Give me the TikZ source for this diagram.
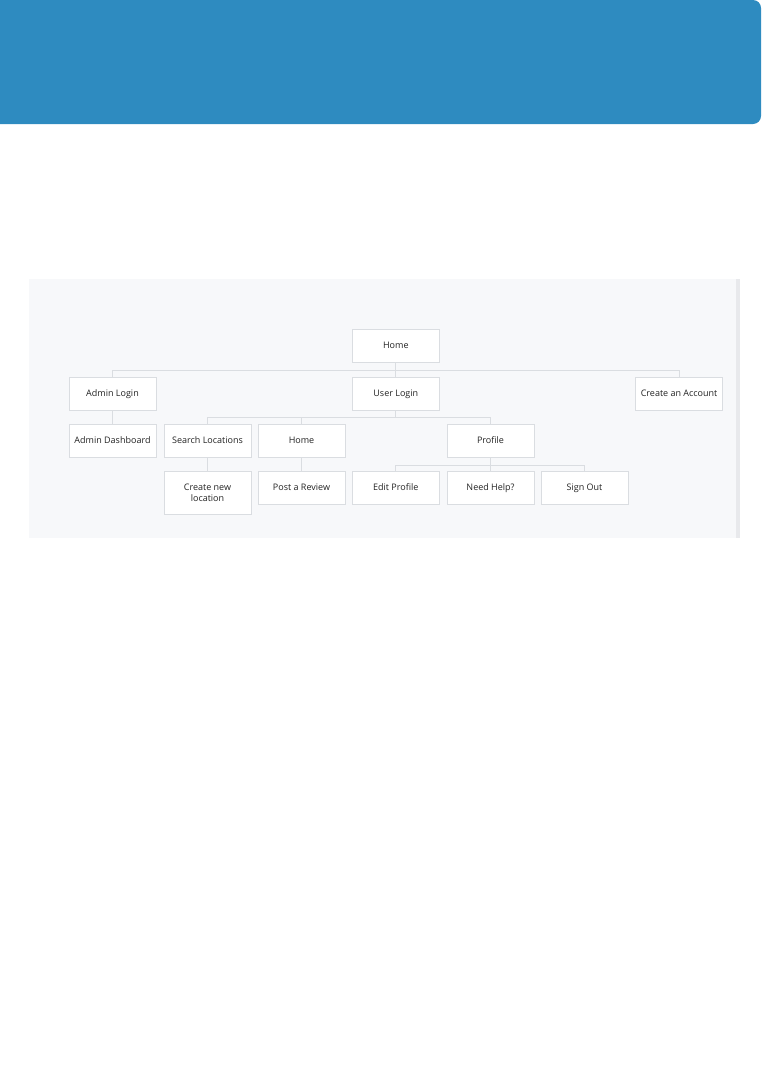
\documentclass[tikz,border=0pt]{standalone}
\usepackage{fontspec}
\setmainfont{Open Sans}
\usetikzlibrary{shadows}
\definecolor{hdr}{RGB}{46,139,192}
\definecolor{panelbg}{RGB}{247,248,250}
\definecolor{strip}{RGB}{232,233,236}
\definecolor{edge}{RGB}{218,221,225}
\definecolor{txt}{RGB}{35,35,35}
\tikzset{
  box/.style={draw=edge, fill=white, line width=0.6pt, minimum width=87pt, minimum height=33pt,
    inner sep=2pt, anchor=north west, font=\fontsize{9}{11.5}\selectfont, text=txt, align=center,
    text height=6.6pt, text depth=1.2pt,
    drop shadow={shadow xshift=0pt, shadow yshift=-1pt, opacity=0.14, fill=black}},
  conn/.style={draw=edge, line width=0.9pt}
}
\begin{document}
\begin{tikzpicture}[x=1pt,y=-1pt]
\useasboundingbox (0,0) rectangle (761,1076);
% header
\fill[hdr] (0,0) [rounded corners=8pt] -- (761,0) -- (761,124) [sharp corners] -- (0,124) -- cycle;
% panel
\fill[panelbg] (29,279) rectangle (736,538);
\fill[strip] (736,279) rectangle (740,538);
% nodes
\node[box] (home) at (352,329) {Home};
\node[box] (admin) at (68.7,376.7) {Admin Login};
\node[box] (user) at (352,376.7) {User Login};
\node[box] (create) at (635.3,376.7) {Create an Account};
\node[box] (dash) at (68.7,423.7) {Admin Dashboard};
\node[box] (search) at (163.7,423.7) {Search Locations};
\node[box] (home2) at (257.7,423.7) {Home};
\node[box] (profile) at (446.7,423.7) {Profile};
\node[box, minimum height=43pt, text height={}, text depth={}] (newloc) at (163.7,471) {Create new\\location};
\node[box] (review) at (257.7,471) {Post a Review};
\node[box] (edit) at (352,471) {Edit Profile};
\node[box] (help) at (446.7,471) {Need Help?};
\node[box] (signout) at (540.7,471) {Sign Out};
% connectors
\draw[conn] (home.south) -- ++(0,7.7) -| (admin.north);
\draw[conn] (home.south) -- ++(0,7.7) -| (create.north);
\draw[conn] (home.south) -- (user.north);
\draw[conn] (user.south) -- ++(0,7) -| (search.north);
\draw[conn] (user.south) -- ++(0,7) -| (home2.north);
\draw[conn] (user.south) -- ++(0,7) -| (profile.north);
\draw[conn] (admin.south) -- (dash.north);
\draw[conn] (search.south) -- (newloc.north);
\draw[conn] (home2.south) -- (review.north);
\draw[conn] (profile.south) -- ++(0,8) -| (edit.north);
\draw[conn] (profile.south) -- (help.north);
\draw[conn] (profile.south) -- ++(0,8) -| (signout.north);
\end{tikzpicture}
\end{document}
